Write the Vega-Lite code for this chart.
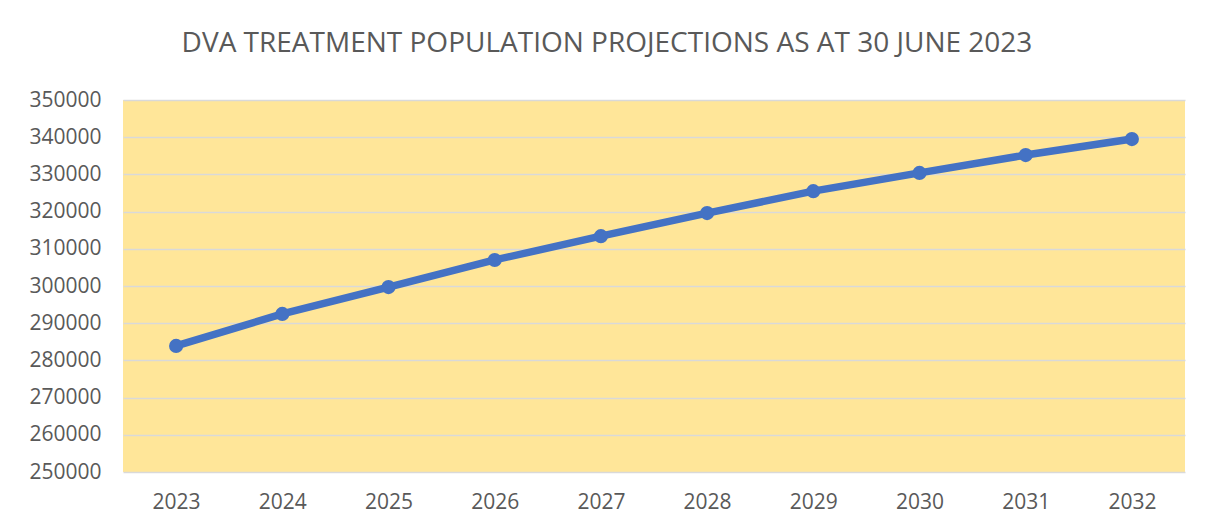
{
  "$schema": "https://vega.github.io/schema/vega-lite/v6.json",
  "autosize": {"type": "none"},
  "width": 1062,
  "height": 372,
  "padding": {"left": 123, "top": 100, "right": 28, "bottom": 59},
  "background": "white",
  "title": {
    "text": "DVA TREATMENT POPULATION PROJECTIONS AS AT 30 JUNE 2023",
    "font": "Open Sans",
    "fontSize": 28,
    "fontWeight": "normal",
    "color": "#595959",
    "anchor": "middle",
    "frame": "bounds",
    "offset": 31
  },
  "data": {
    "values": [
      {"year": "2023", "population": 283900},
      {"year": "2024", "population": 292500},
      {"year": "2025", "population": 299700},
      {"year": "2026", "population": 307000},
      {"year": "2027", "population": 313400},
      {"year": "2028", "population": 319600},
      {"year": "2029", "population": 325500},
      {"year": "2030", "population": 330400},
      {"year": "2031", "population": 335200},
      {"year": "2032", "population": 339500}
    ]
  },
  "mark": {
    "type": "line",
    "color": "#4472C4",
    "strokeWidth": 7.5,
    "point": {"filled": true, "size": 200, "color": "#4472C4", "opacity": 1}
  },
  "encoding": {
    "x": {
      "field": "year",
      "type": "ordinal",
      "scale": {"type": "point", "padding": 0.5},
      "axis": {
        "title": null,
        "labelAngle": 0,
        "domain": false,
        "ticks": false,
        "grid": false,
        "labelFont": "Open Sans",
        "labelFontSize": 21,
        "labelColor": "#595959",
        "labelPadding": 19
      }
    },
    "y": {
      "field": "population",
      "type": "quantitative",
      "scale": {"domain": [250000, 350000], "nice": false, "zero": false},
      "axis": {
        "title": null,
        "values": [250000, 260000, 270000, 280000, 290000, 300000, 310000, 320000, 330000, 340000, 350000],
        "format": "d",
        "domain": false,
        "ticks": false,
        "grid": true,
        "gridColor": "#D9D9D9",
        "gridWidth": 1.5,
        "labelFont": "Open Sans",
        "labelFontSize": 21,
        "labelColor": "#595959",
        "labelPadding": 22
      }
    }
  },
  "config": {
    "view": {"fill": "#FFE699", "stroke": null}
  }
}
